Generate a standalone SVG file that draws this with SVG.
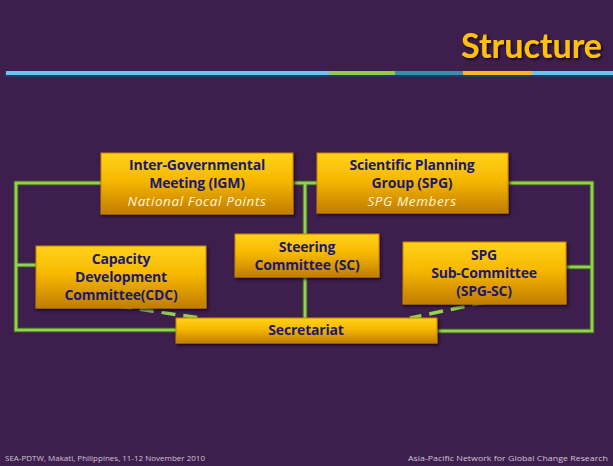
<svg xmlns="http://www.w3.org/2000/svg" width="613" height="466" viewBox="0 0 613 466">
  <defs>
    <linearGradient id="boxFill" x1="0" y1="0" x2="0" y2="1">
      <stop offset="0" stop-color="#ffd21a"/>
      <stop offset="0.45" stop-color="#f7b800"/>
      <stop offset="1" stop-color="#c07c00"/>
    </linearGradient>
    <filter id="shadow" x="-10%" y="-20%" width="125%" height="150%">
      <feDropShadow dx="1.5" dy="2" stdDeviation="1.5" flood-color="#14061c" flood-opacity="0.8"/>
    </filter>
    <filter id="titleShadow" x="-10%" y="-20%" width="125%" height="150%">
      <feDropShadow dx="1.5" dy="1.5" stdDeviation="1" flood-color="#0c0412" flood-opacity="0.9"/>
    </filter>
  </defs>
  <style>
    .box { fill: url(#boxFill); stroke: #c98400; stroke-width: 1; filter: url(#shadow); }
    .lbl { font-family: "Open Sans", "Liberation Sans", sans-serif; font-weight: bold; font-size: 14px; fill: #1c1a6c; text-anchor: middle; letter-spacing: -0.2px; }
    .sub { font-family: "Open Sans", "Liberation Sans", sans-serif; font-style: italic; font-size: 13.5px; fill: #fff4dc; text-anchor: middle; letter-spacing: 0.6px; }
    .edgeUnder { fill: none; stroke: #4f7d28; stroke-width: 4.5; }
    .edge { fill: none; stroke: #93d24e; stroke-width: 2.5; }
    .dash { fill: none; stroke: #93d24e; stroke-width: 3.5; stroke-dasharray: 14 8; }
    .foot { font-family: "Open Sans", "Liberation Sans", sans-serif; font-size: 8px; fill: #cfc6d6; }
  </style>

  <!-- slide background -->
  <rect width="613" height="466" fill="#3d1e4c"/>

  <!-- title -->
  <text x="602" y="58" text-anchor="end" font-family="Lato, 'Liberation Sans', sans-serif" font-weight="bold" font-size="34" fill="#fcc010" filter="url(#titleShadow)">Structure</text>

  <!-- coloured header stripe -->
  <g id="stripe">
    <rect x="5" y="72" width="608" height="5" fill="#1c3a6a"/>
    <rect x="6" y="71" width="323" height="4" fill="#6ec4f0"/>
    <rect x="329" y="71" width="66" height="4" fill="#96c84e"/>
    <rect x="395" y="71" width="68" height="4" fill="#3a8fa8"/>
    <rect x="463" y="71" width="69" height="4" fill="#f7b822"/>
    <rect x="532" y="71" width="81" height="4" fill="#6ec4f0"/>
  </g>

  <!-- connectors -->
  <g id="connectors">
    <g class="edgeUnder">
      <path d="M101 183 H16 V330 H176"/>
      <path d="M16 265 H36"/>
      <path d="M293 183 H317"/>
      <path d="M305 183 V234 M305 277 V318"/>
      <path d="M508 183 H592 V331 H437"/>
      <path d="M566 267 H592"/>
    </g>
    <g class="edge">
      <path d="M101 183 H16 V330 H176"/>
      <path d="M16 265 H36"/>
      <path d="M293 183 H317"/>
      <path d="M305 183 V234 M305 277 V318"/>
      <path d="M508 183 H592 V331 H437"/>
      <path d="M566 267 H592"/>
    </g>
    <path class="dash" d="M118 306 L200 318"/>
    <path class="dash" d="M486 302 L410 318"/>
  </g>

  <!-- nodes -->
  <g id="igm">
    <rect class="box" x="101" y="153" width="192" height="61"/>
    <text class="lbl" x="197" y="170">Inter-Governmental</text>
    <text class="lbl" x="197" y="188">Meeting (IGM)</text>
    <text class="sub" x="197" y="206">National Focal Points</text>
  </g>

  <g id="spg">
    <rect class="box" x="317" y="153" width="191" height="60"/>
    <text class="lbl" x="412" y="170">Scientific Planning</text>
    <text class="lbl" x="412" y="188">Group (SPG)</text>
    <text class="sub" x="412" y="206">SPG Members</text>
  </g>

  <g id="cdc">
    <rect class="box" x="36" y="246" width="170" height="62"/>
    <text class="lbl" x="121" y="264">Capacity</text>
    <text class="lbl" x="121" y="282">Development</text>
    <text class="lbl" x="121" y="300">Committee(CDC)</text>
  </g>

  <g id="sc">
    <rect class="box" x="235" y="234" width="144" height="43"/>
    <text class="lbl" x="307" y="252">Steering</text>
    <text class="lbl" x="307" y="270">Committee (SC)</text>
  </g>

  <g id="spgsc">
    <rect class="box" x="403" y="242" width="163" height="62"/>
    <text class="lbl" x="484" y="260">SPG</text>
    <text class="lbl" x="484" y="278">Sub-Committee</text>
    <text class="lbl" x="484" y="296">(SPG-SC)</text>
  </g>

  <g id="secretariat">
    <rect class="box" x="176" y="318" width="261" height="25"/>
    <text class="lbl" x="306" y="335">Secretariat</text>
  </g>

  <!-- footer -->
  <text class="foot" x="5" y="461" textLength="200" lengthAdjust="spacingAndGlyphs">SEA-PDTW, Makati, Philippines, 11-12 November 2010</text>
  <text class="foot" x="608" y="461" text-anchor="end" textLength="200" lengthAdjust="spacingAndGlyphs">Asia-Pacific Network for Global Change Research</text>
</svg>
